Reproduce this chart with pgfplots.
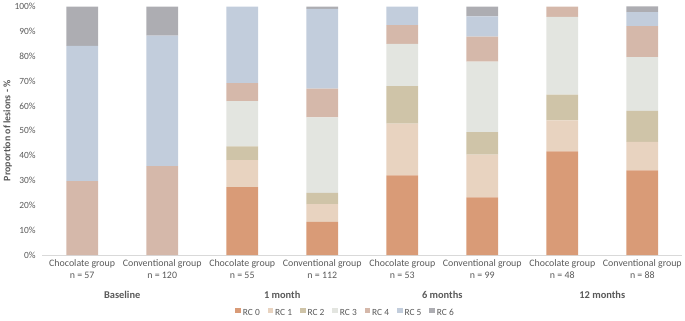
\documentclass[border=0pt]{standalone}
\usepackage{pgfplots}
\pgfplotsset{compat=1.18}
\usepackage{fontspec}
\setmainfont{Carlito}
\definecolor{rc0}{HTML}{D99B77}
\definecolor{rc1}{HTML}{E8D3C0}
\definecolor{rc2}{HTML}{CFC4A8}
\definecolor{rc3}{HTML}{E3E5E0}
\definecolor{rc4}{HTML}{D5B8AA}
\definecolor{rc5}{HTML}{C2CDDC}
\definecolor{rc6}{HTML}{ADADB2}
\definecolor{txt}{HTML}{595959}
\definecolor{axl}{HTML}{D9D9D9}
\begin{document}
\begin{tikzpicture}
\begin{axis}[
  scale only axis, width=644bp, height=250bp,
  ybar stacked, bar width=32bp,
  xmin=-0.5, xmax=7.5, ymin=0, ymax=100,
  xtick={0,...,7},
  xticklabels={{Chocolate group\\n = 57},{Conventional group\\n = 120},{Chocolate group\\n = 55},{Conventional group\\n = 112},{Chocolate group\\n = 53},{Conventional group\\n = 99},{Chocolate group\\n = 48},{Conventional group\\n = 88}},
  xticklabel style={align=center, font=\fontsize{10}{11.8}\selectfont, text=txt, yshift=-1bp},
  ytick={0,10,...,100},
  yticklabel={\pgfmathprintnumber{\tick}\%},
  yticklabel style={font=\fontsize{9.5}{10}\selectfont, text=txt, xshift=-3bp},
  /pgf/number format/assume math mode=true,
  major tick length=0pt,
  axis x line*=bottom, axis y line*=left,
  x axis line style={draw=axl, line width=0.8pt, -},
  y axis line style={draw=none},
  ylabel={\textbf{Proportion of lesions - \%}},
  ylabel style={font=\fontsize{10}{11}\selectfont, text=txt, yshift=-4bp},
  legend style={at={(0.474,-0.2)}, anchor=north, draw=none, fill=none,
    legend columns=-1, font=\fontsize{9.5}{10}\selectfont, text=txt,
    /tikz/every even column/.append style={column sep=6bp}},
  legend image code/.code={\fill[#1] (0bp,-0.5bp) rectangle (5.5bp,5bp);},
  clip=false,
]
\addplot[fill=rc0, draw=none] coordinates {(0,0) (1,0) (2,27.3) (3,13.4) (4,32.1) (5,23.2) (6,41.7) (7,34.1)};
\addplot[fill=rc1, draw=none] coordinates {(0,0) (1,0) (2,10.9) (3,7.1) (4,20.8) (5,17.2) (6,12.5) (7,11.4)};
\addplot[fill=rc2, draw=none] coordinates {(0,0) (1,0) (2,5.5) (3,4.5) (4,15.1) (5,9.1) (6,10.4) (7,12.5)};
\addplot[fill=rc3, draw=none] coordinates {(0,0) (1,0) (2,18.2) (3,30.4) (4,17.0) (5,28.3) (6,31.2) (7,21.6)};
\addplot[fill=rc4, draw=none] coordinates {(0,29.8) (1,35.8) (2,7.3) (3,11.6) (4,7.5) (5,10.1) (6,4.2) (7,12.5)};
\addplot[fill=rc5, draw=none] coordinates {(0,54.4) (1,52.5) (2,30.8) (3,32.1) (4,7.5) (5,8.1) (6,0) (7,5.7)};
\addplot[fill=rc6, draw=none] coordinates {(0,15.8) (1,11.7) (2,0) (3,0.9) (4,0) (5,4.0) (6,0) (7,2.3)};
\legend{RC 0,RC 1,RC 2,RC 3,RC 4,RC 5,RC 6}
\node[font=\bfseries\fontsize{10.5}{12}\selectfont, text=txt] at (axis cs:0.5,0) [yshift=-40bp] {Baseline};
\node[font=\bfseries\fontsize{10.5}{12}\selectfont, text=txt] at (axis cs:2.5,0) [yshift=-40bp] {1 month};
\node[font=\bfseries\fontsize{10.5}{12}\selectfont, text=txt] at (axis cs:4.5,0) [yshift=-40bp] {6 months};
\node[font=\bfseries\fontsize{10.5}{12}\selectfont, text=txt] at (axis cs:6.5,0) [yshift=-40bp] {12 months};
\end{axis}
\end{tikzpicture}
\end{document}
